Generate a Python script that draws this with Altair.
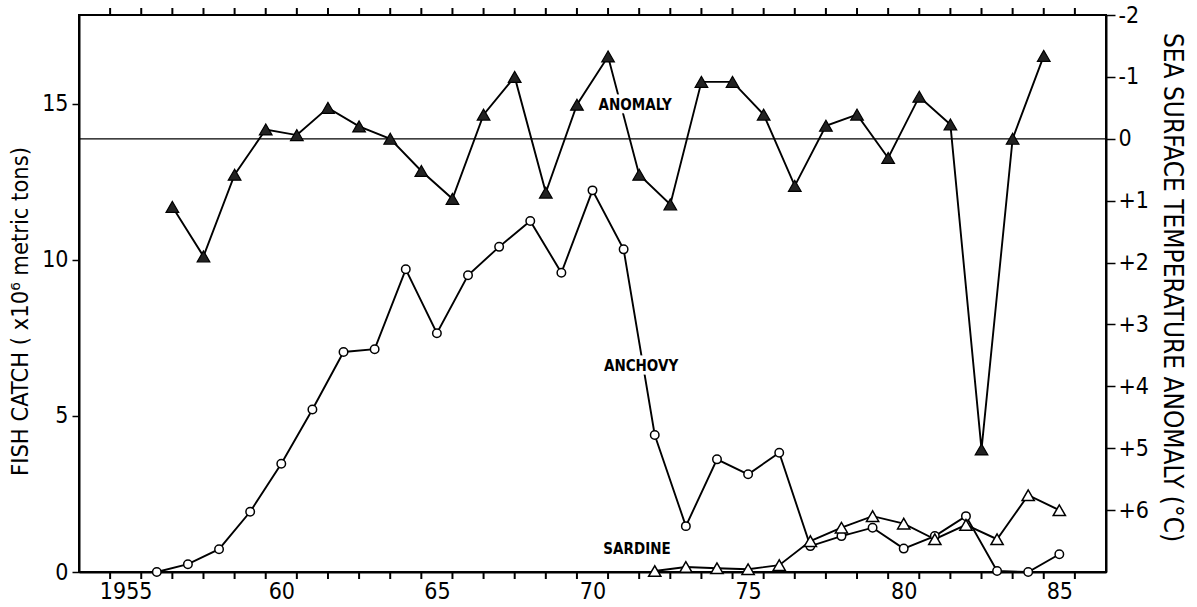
import altair as alt
import pandas as pd

FONT = "DejaVu Sans Condensed, Liberation Sans Narrow, sans-serif"

# ---- data ----
anchovy_years = list(range(1956, 1986))
anchovy_catch = [0.0, 0.25, 0.73, 1.93, 3.47, 5.21, 7.05, 7.14, 9.70, 7.65,
                 9.51, 10.42, 11.25, 9.59, 12.23, 10.34, 4.39, 1.47, 3.61, 3.13,
                 3.82, 0.83, 1.15, 1.42, 0.75, 1.15, 1.79, 0.03, 0.0, 0.57]

sardine_years = list(range(1972, 1986))
sardine_catch = [0.03, 0.16, 0.12, 0.09, 0.22, 0.99, 1.42, 1.79, 1.55, 1.05,
                 1.51, 1.05, 2.46, 1.98]

anomaly_years = list(range(1957, 1986))
anomaly_values = [1.10, 1.90, 0.58, -0.15, -0.06, -0.50, -0.20, 0.0, 0.52, 0.97,
                  -0.39, -1.0, 0.87, -0.55, -1.33, 0.58, 1.06, -0.92, -0.92, -0.39,
                  0.76, -0.21, -0.39, 0.31, -0.68, -0.23, 5.02, 0.0, -1.34]

catch_labels = ["ANCHOVY", "SARDINE"]
catch_label_t = [1972.06, 1971.93]
catch_label_v = [6.6, 0.74]

anomaly_labels = ["ANOMALY"]
anomaly_label_t = [1971.87]
anomaly_label_v = [-0.55]

year_ticks = list(range(1955, 1987))          # minor year ticks (top and bottom)
year_labels = [1955, 1960, 1965, 1970, 1975, 1980, 1985]   # labelled at mid-year
catch_ticks = [0, 5, 10, 15]
anomaly_ticks = [-2, -1, 0, 1, 2, 3, 4, 5, 6]

# ---- tables ----
anch = pd.DataFrame({"t": [y + 0.5 for y in anchovy_years], "catch": anchovy_catch})
sard = pd.DataFrame({"t": [y + 0.5 for y in sardine_years], "catch": sardine_catch})
anom = pd.DataFrame({"t": anomaly_years, "anomaly": anomaly_values})
ctext = pd.DataFrame({"t": catch_label_t, "catch": catch_label_v, "label": catch_labels})
atext = pd.DataFrame({"t": anomaly_label_t, "anomaly": anomaly_label_v, "label": anomaly_labels})
zero = pd.DataFrame({"anomaly": [0]})
ticks_df = pd.DataFrame({"t": year_ticks})

W, H = 1027, 557
xscale = alt.Scale(domain=[1954, 1987], nice=False, zero=False)

X = alt.X(
    "t:Q", scale=xscale,
    axis=alt.Axis(
        orient="bottom", values=[y + 0.5 for y in year_labels], title=None, grid=False,
        labelExpr="floor(datum.value) == 1955 ? '1955' : substring(toString(floor(datum.value)), 2)",
        ticks=False, labelOverlap=False, labelFlush=False, labelBound=False,
        domainColor="black", domainWidth=2,
        labelFont=FONT, labelFontSize=23, labelColor="black", labelPadding=8,
    ),
)

Y_catch = alt.Y(
    "catch:Q", scale=alt.Scale(domain=[0, 17.85], nice=False, zero=False),
    axis=alt.Axis(
        orient="left", values=catch_ticks, grid=False,
        title="FISH CATCH ( x10\u2076 metric tons)",
        titleFont=FONT, titleFontSize=23.5, titleFontWeight="normal", titleColor="black",
        titlePadding=9, titleY=296,
        tickSize=7, tickWidth=1.5, tickColor="black",
        domainColor="black", domainWidth=2,
        labelFont=FONT, labelFontSize=23, labelColor="black", labelPadding=4,
    ),
)
Y_anom = alt.Y(
    "anomaly:Q", scale=alt.Scale(domain=[-2, 7], nice=False, zero=False, reverse=True),
    axis=alt.Axis(
        orient="right", values=anomaly_ticks, grid=False,
        labelExpr="datum.value > 0 ? '+' + datum.value : (datum.value < 0 ? '-' + abs(datum.value) : '0')",
        title="SEA SURFACE TEMPERATURE ANOMALY (\u00b0C)",
        titleFont=FONT, titleFontSize=26, titleFontWeight="normal", titleColor="black",
        titlePadding=10, titleY=272,
        tickSize=9, tickWidth=1.5, tickColor="black",
        domainColor="black", domainWidth=2,
        labelFont=FONT, labelFontSize=23, labelColor="black", labelPadding=3,
        labelOverlap=False, labelFlush=False,
    ),
)

LW = 1.9

top_ticks = alt.Chart(ticks_df).mark_rule(color="black", strokeWidth=2).encode(
    x=X, y=alt.value(0), y2=alt.value(-7))
bottom_ticks = alt.Chart(ticks_df).mark_rule(color="black", strokeWidth=2).encode(
    x=X, y=alt.value(H), y2=alt.value(H + 7))

anch_line = alt.Chart(anch).mark_line(color="black", strokeWidth=LW).encode(x=X, y=Y_catch)
sard_line = alt.Chart(sard).mark_line(color="black", strokeWidth=LW).encode(x=X, y=Y_catch)
ctext_halo = alt.Chart(ctext).mark_text(
    font=FONT, fontSize=15, fontWeight="bold", color="white", stroke="white", strokeWidth=7
).encode(x=X, y=Y_catch, text="label:N")
ctext_txt = alt.Chart(ctext).mark_text(
    font=FONT, fontSize=15, fontWeight="bold", color="black"
).encode(x=X, y=Y_catch, text="label:N")
anch_pts = alt.Chart(anch).mark_point(
    shape="circle", filled=True, fill="white", stroke="black", strokeWidth=1.5, size=72, opacity=1
).encode(x=X, y=Y_catch)
sard_pts = alt.Chart(sard).mark_point(
    shape="triangle-up", filled=True, fill="white", stroke="black", strokeWidth=1.5, size=150, opacity=1
).encode(x=X, y=Y_catch)

catch_layer = alt.layer(top_ticks, bottom_ticks, anch_line, sard_line, ctext_halo, ctext_txt,
                        anch_pts, sard_pts)

zero_rule = alt.Chart(zero).mark_rule(color="black", strokeWidth=1.2).encode(y=Y_anom)
anom_line = alt.Chart(anom).mark_line(color="black", strokeWidth=LW).encode(x=X, y=Y_anom)
atext_halo = alt.Chart(atext).mark_text(
    font=FONT, fontSize=15, fontWeight="bold", color="white", stroke="white", strokeWidth=7
).encode(x=X, y=Y_anom, text="label:N")
atext_txt = alt.Chart(atext).mark_text(
    font=FONT, fontSize=15, fontWeight="bold", color="black"
).encode(x=X, y=Y_anom, text="label:N")
anom_pts = alt.Chart(anom).mark_point(
    shape="triangle-up", filled=True, fill="#222", stroke="black", strokeWidth=1.2, size=160, opacity=1
).encode(x=X, y=Y_anom)

anom_layer = alt.layer(zero_rule, anom_line, atext_halo, atext_txt, anom_pts)

chart = (
    alt.layer(catch_layer, anom_layer)
    .resolve_scale(y="independent")
    .resolve_axis(y="independent")
    .properties(
        width=W, height=H,
        padding={"left": 79, "top": 15, "right": 91, "bottom": 35},
        autosize=alt.AutoSizeParams(type="none"),
        background="white",
    )
    .configure_view(stroke="black", strokeWidth=2)
)

chart.save("out.html", embed_options={"renderer": "svg", "actions": False})
